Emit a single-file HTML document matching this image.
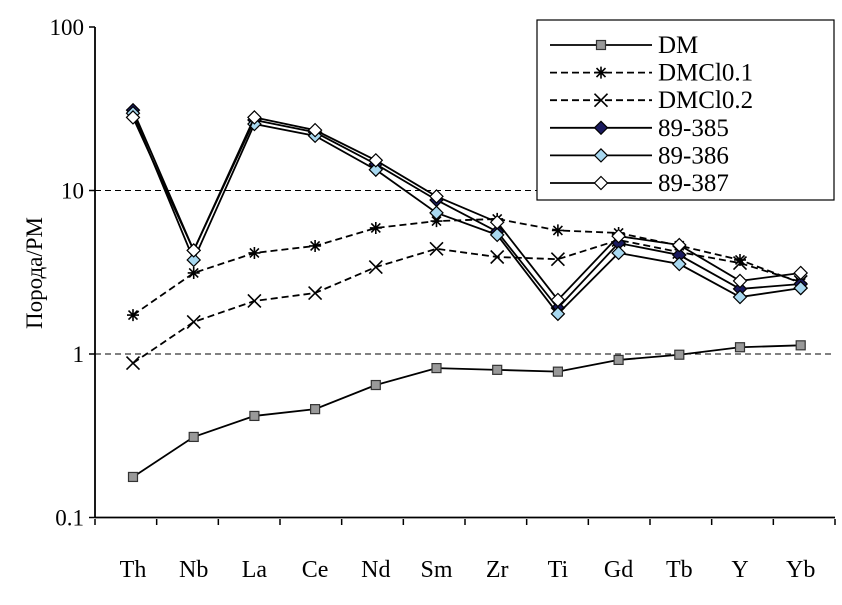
<!DOCTYPE html>
<html><head><meta charset="utf-8"><style>
html,body{margin:0;padding:0;background:#fff;}
svg{display:block;}
svg text{font-family:"Liberation Serif","Times New Roman",serif;}
</style></head><body>
<svg id="chart" width="842" height="605" viewBox="0 0 842 605"></svg>
<script>
const categories=["Th","Nb","La","Ce","Nd","Sm","Zr","Ti","Gd","Tb","Y","Yb"];
const yTicks=[0.1,1,10,100];
const yTickLabels=["0.1","1","10","100"];
const dmValues=[0.177,0.311,0.418,0.46,0.646,0.82,0.80,0.78,0.92,0.99,1.10,1.13];
const dmcl01Values=[1.73,3.13,4.15,4.58,5.9,6.5,6.7,5.7,5.5,4.6,3.76,2.72];
const dmcl02Values=[0.88,1.57,2.11,2.36,3.4,4.4,3.92,3.8,4.98,4.2,3.6,2.76];
const s385Values=[31,4.3,27,22.7,14.5,8.75,5.6,1.91,4.77,4.03,2.5,2.68];
const s386Values=[29.7,3.76,25.5,21.6,13.4,7.3,5.35,1.76,4.15,3.55,2.23,2.53];
const s387Values=[28,4.3,28,23.4,15.3,9.2,6.4,2.14,5.26,4.64,2.8,3.13];
const seriesNames=["DM","DMCl0.1","DMCl0.2","89-385","89-386","89-387"];

const NS="http://www.w3.org/2000/svg";
const svg=document.getElementById("chart");
const X0=133,DX=60.7,Y1=354,DEC=163.5;
const xs=i=>X0+i*DX;
const ys=v=>Y1-Math.log10(v)*DEC;
function mk(tag,attrs,parent){const e=document.createElementNS(NS,tag);for(const k in attrs)e.setAttribute(k,attrs[k]);(parent||svg).appendChild(e);return e;}
const FF='"Liberation Serif", serif';

[10,1].forEach(v=>{
 const g=mk("line",{x1:95,x2:835,y1:ys(v),y2:ys(v),stroke:"#000","stroke-width":1,"stroke-dasharray":"6,4"});
 
 
});
const ya=mk("line",{x1:95,x2:95,y1:ys(100),y2:ys(0.1),stroke:"#000","stroke-width":1.8});


const xa=mk("line",{x1:95,x2:835,y1:ys(0.1),y2:ys(0.1),stroke:"#000","stroke-width":1.8});


yTicks.forEach((v,i)=>{
 mk("line",{x1:89,x2:95,y1:ys(v),y2:ys(v),stroke:"#000","stroke-width":1.5});
 const t=mk("text",{x:84,y:ys(v)+8,"text-anchor":"end","font-size":23,"font-family":FF});
 t.textContent=yTickLabels[i];
 
 
});
for(let i=0;i<=categories.length;i++){const x=95+i*(740/12);mk("line",{x1:x,x2:x,y1:519,y2:525,stroke:"#000","stroke-width":1.5});}
categories.forEach((c,i)=>{
 const t=mk("text",{x:xs(i),y:577,"text-anchor":"middle","font-size":24,"font-family":FF});
 t.textContent=c;
 
 
});
const yt=mk("text",{x:0,y:0,"text-anchor":"middle","font-size":23,"font-family":FF,transform:"translate(42,273) rotate(-90)"});
yt.textContent="Порода/PM";



function marker(type,x,y,g){
 if(type==="square"){mk("rect",{x:x-4.5,y:y-4.5,width:9,height:9,fill:"#999",stroke:"#333","stroke-width":1.2},g);}
 else if(type==="asterisk"){const s=6;mk("path",{d:`M${x-s},${y}H${x+s}M${x},${y-s}V${y+s}M${x-s*0.75},${y-s*0.75}L${x+s*0.75},${y+s*0.75}M${x-s*0.75},${y+s*0.75}L${x+s*0.75},${y-s*0.75}`,stroke:"#000","stroke-width":1.6,fill:"none"},g);}
 else if(type==="cross"){const s=6.5;mk("path",{d:`M${x-s},${y-s}L${x+s},${y+s}M${x-s},${y+s}L${x+s},${y-s}`,stroke:"#000","stroke-width":1.6,fill:"none"},g);}
 else {const fills={d385:"#1a1a5e",d386:"#a8d8f0",d387:"#fff"};const s=6.5;mk("path",{d:`M${x},${y-s}L${x+s},${y}L${x},${y+s}L${x-s},${y}Z`,fill:fills[type],stroke:"#000","stroke-width":1.2},g);}
}
const series=[
 {vals:dmValues,m:"square",dash:""},
 {vals:dmcl01Values,m:"asterisk",dash:"7,4"},
 {vals:dmcl02Values,m:"cross",dash:"7,4"},
 {vals:s385Values,m:"d385",dash:""},
 {vals:s386Values,m:"d386",dash:""},
 {vals:s387Values,m:"d387",dash:""}
];
series.forEach((s,k)=>{
 const g=mk("g",{});
 
 
 mk("polyline",{points:s.vals.map((v,i)=>xs(i)+","+ys(v)).join(" "),fill:"none",stroke:"#000","stroke-width":1.8,"stroke-dasharray":s.dash},g);
 s.vals.forEach((v,i)=>marker(s.m,xs(i),ys(v),g));
});
const lg=mk("g",{});


mk("rect",{x:537,y:20,width:297,height:180,fill:"#fff",stroke:"#000","stroke-width":1.2},lg);
series.forEach((s,k)=>{
 const y=45+k*27.6;
 const e=mk("g",{},lg);
 
 
 mk("line",{x1:550,x2:652,y1:y,y2:y,stroke:"#000","stroke-width":1.8,"stroke-dasharray":s.dash},e);
 marker(s.m,601,y,e);
 const t=mk("text",{x:658,y:y+8,"font-size":25,"font-family":FF},e);
 t.textContent=seriesNames[k];
});
</script>
</body></html>
